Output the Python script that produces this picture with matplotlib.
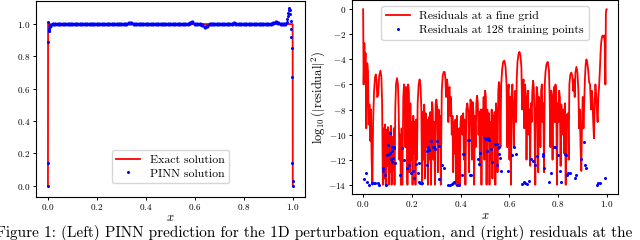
import numpy as np
import matplotlib
matplotlib.use("Agg")
from matplotlib import pyplot as plt

plt.rcParams['font.family'] = 'serif'
plt.rcParams['font.serif'] = ['cmr10']
plt.rcParams['mathtext.fontset'] = 'cm'
plt.rcParams['axes.formatter.use_mathtext'] = True
plt.rcParams['axes.unicode_minus'] = True

# ---- left panel data: exact solution and PINN prediction ----
exact_x = [0.0, 0.0005, 0.9995, 1.0]
exact_u = [0.0, 1.0, 1.0, 0.0]

# PINN values on the evaluation grid x = 0.01 ... 0.97
grid_x = np.round(np.arange(0.01, 0.975, 0.01), 2)
grid_u = [0.99, 1.0, 1.0, 1.0, 1.0, 1.0, 1.002, 1.0, 1.0, 1.0,
          1.0, 1.0, 1.0, 1.0, 1.0, 1.0, 1.0, 1.0, 1.0, 1.0,
          1.0, 1.0, 1.0, 1.0, 1.0, 1.0, 1.0, 1.0, 1.0, 1.0,
          1.0, 1.0, 1.004, 1.006, 1.002, 1.0, 1.0, 1.0, 1.0, 1.0,
          1.0, 1.0, 1.0, 1.0, 1.0, 1.0, 1.0, 1.0, 1.0, 1.0,
          1.0, 1.0, 1.0, 1.0, 1.0, 1.0, 1.0, 1.006, 1.01, 1.003,
          1.0, 1.0, 0.995, 0.98, 0.99, 1.0, 1.0, 1.0, 1.0, 1.0,
          1.0, 1.0, 1.0, 1.0, 1.0, 1.004, 1.002, 1.0, 1.0, 1.0,
          1.0, 1.0, 1.0, 0.998, 1.0, 1.0, 1.0, 1.0, 1.0, 1.0,
          1.0, 1.004, 1.01, 1.004, 1.0, 1.0, 1.002]
# extra PINN points close to the two boundary layers
edge_x = [0.0, 0.0, 0.001, 0.002, 0.003, 0.004, 0.005, 0.006, 0.007, 0.008,
          0.975, 0.978, 0.98, 0.982, 0.984, 0.986, 0.988, 0.99, 0.992,
          0.993, 0.994, 0.995, 0.996, 0.998, 0.999, 1.0]
edge_u = [0.0, 0.14, 0.89, 1.01, 0.97, 0.955, 0.96, 0.97, 0.985, 0.995,
          1.01, 1.03, 1.05, 1.07, 1.09, 1.1, 1.09, 1.06, 1.02,
          0.97, 0.92, 0.85, 0.67, 0.14, 0.03, 0.0]

# ---- right panel data: log10 of squared residuals ----
fine_x = [0.000, 0.002, 0.005, 0.008, 0.010, 0.013, 0.017, 0.020, 0.023, 0.026,
          0.029, 0.032, 0.035, 0.038, 0.041, 0.045, 0.049, 0.052, 0.055, 0.058,
          0.062, 0.066, 0.071, 0.075, 0.078, 0.081, 0.084, 0.087, 0.090, 0.093,
          0.096, 0.099, 0.102, 0.105, 0.108, 0.111, 0.114, 0.117, 0.120, 0.123,
          0.126, 0.129, 0.132, 0.135, 0.139, 0.143, 0.146, 0.149, 0.152, 0.155,
          0.158, 0.161, 0.165, 0.168, 0.171, 0.173, 0.176, 0.179, 0.182, 0.185,
          0.188, 0.191, 0.194, 0.197, 0.200, 0.203, 0.206, 0.209, 0.212, 0.215,
          0.218, 0.221, 0.224, 0.228, 0.232, 0.236, 0.239, 0.242, 0.245, 0.248,
          0.251, 0.254, 0.257, 0.260, 0.263, 0.266, 0.270, 0.273, 0.276, 0.279,
          0.283, 0.286, 0.289, 0.292, 0.295, 0.298, 0.301, 0.304, 0.307, 0.310,
          0.313, 0.316, 0.319, 0.323, 0.327, 0.331, 0.335, 0.338, 0.341, 0.344,
          0.347, 0.350, 0.352, 0.355, 0.358, 0.361, 0.364, 0.367, 0.370, 0.373,
          0.376, 0.379, 0.382, 0.385, 0.388, 0.391, 0.394, 0.397, 0.400, 0.404,
          0.408, 0.411, 0.414, 0.417, 0.420, 0.424, 0.428, 0.432, 0.435, 0.438,
          0.441, 0.444, 0.447, 0.450, 0.453, 0.456, 0.459, 0.462, 0.465, 0.468,
          0.471, 0.474, 0.477, 0.480, 0.483, 0.486, 0.489, 0.492, 0.495, 0.498,
          0.501, 0.504, 0.507, 0.510, 0.513, 0.516, 0.519, 0.522, 0.525, 0.528,
          0.531, 0.534, 0.537, 0.540, 0.543, 0.546, 0.549, 0.552, 0.555, 0.558,
          0.561, 0.564, 0.567, 0.571, 0.575, 0.580, 0.585, 0.589, 0.592, 0.595,
          0.598, 0.601, 0.604, 0.607, 0.610, 0.613, 0.616, 0.619, 0.622, 0.625,
          0.628, 0.631, 0.634, 0.638, 0.642, 0.646, 0.650, 0.653, 0.656, 0.659,
          0.662, 0.665, 0.668, 0.671, 0.674, 0.677, 0.680, 0.683, 0.686, 0.689,
          0.692, 0.695, 0.698, 0.701, 0.704, 0.707, 0.710, 0.713, 0.716, 0.719,
          0.722, 0.725, 0.728, 0.731, 0.734, 0.737, 0.740, 0.743, 0.746, 0.749,
          0.753, 0.758, 0.763, 0.766, 0.769, 0.772, 0.775, 0.778, 0.781, 0.784,
          0.787, 0.790, 0.793, 0.796, 0.799, 0.802, 0.805, 0.808, 0.811, 0.814,
          0.817, 0.820, 0.823, 0.826, 0.829, 0.832, 0.835, 0.838, 0.841, 0.844,
          0.847, 0.851, 0.855, 0.859, 0.863, 0.866, 0.869, 0.872, 0.876, 0.880,
          0.884, 0.887, 0.890, 0.893, 0.896, 0.899, 0.902, 0.905, 0.908, 0.911,
          0.914, 0.917, 0.920, 0.924, 0.928, 0.932, 0.936, 0.939, 0.942, 0.945,
          0.948, 0.951, 0.954, 0.957, 0.960, 0.963, 0.966, 0.969, 0.972, 0.975,
          0.978, 0.981, 0.984, 0.987, 0.990, 0.992, 0.994, 0.995, 0.997, 0.999,
          1.000]
fine_r = [0.0, -6.0, -2.7, -4.5, -3.5, -9.5, -4.3, -5.0, -9.2, -7.6,
          -10.5, -8.0, -12.0, -14.0, -9.0, -6.5, -5.4, -5.2, -5.6, -7.0,
          -6.8, -5.3, -4.9, -5.4, -7.5, -14.0, -9.5, -13.5, -9.2, -14.0,
          -9.6, -12.5, -9.4, -14.0, -9.8, -13.0, -9.3, -14.0, -10.2, -12.8,
          -9.5, -14.0, -8.0, -6.0, -5.5, -6.0, -8.0, -12.0, -10.0, -14.0,
          -9.5, -14.0, -7.0, -6.0, -6.8, -11.0, -6.2, -7.0, -14.0, -6.0,
          -6.6, -13.0, -7.5, -12.0, -9.0, -14.0, -8.5, -11.5, -9.0, -14.0,
          -8.8, -12.0, -7.5, -6.0, -5.6, -6.2, -8.0, -14.0, -8.2, -12.0,
          -7.6, -13.5, -8.3, -11.0, -8.8, -14.0, -8.6, -12.0, -8.2, -14.0,
          -7.4, -8.0, -12.0, -9.0, -14.0, -7.5, -7.2, -7.8, -13.0, -8.0,
          -11.0, -8.5, -14.0, -6.5, -5.3, -5.0, -5.0, -5.6, -7.0, -5.6,
          -6.0, -9.0, -6.5, -6.2, -8.5, -7.0, -10.0, -8.5, -13.0, -9.0,
          -11.5, -8.8, -14.0, -8.5, -12.0, -14.0, -9.5, -14.0, -9.0, -8.5,
          -10.0, -8.3, -12.0, -8.8, -14.0, -8.0, -7.5, -8.2, -13.0, -8.5,
          -7.2, -7.6, -12.0, -7.4, -8.2, -14.0, -8.5, -11.0, -7.5, -6.9,
          -7.5, -10.0, -8.2, -12.5, -8.0, -14.0, -8.0, -10.0, -7.0, -12.0,
          -6.5, -7.0, -14.0, -8.0, -10.5, -8.3, -14.0, -9.0, -12.0, -8.0,
          -13.5, -8.5, -11.0, -8.2, -14.0, -7.5, -9.0, -13.0, -6.5, -5.8,
          -6.5, -11.0, -6.0, -4.8, -4.2, -4.1, -4.6, -6.0, -11.0, -6.5,
          -6.0, -12.0, -7.0, -14.0, -6.8, -6.0, -8.0, -11.0, -7.5, -6.5,
          -9.0, -5.5, -4.2, -3.6, -3.4, -3.7, -4.6, -8.0, -6.0, -5.6,
          -9.5, -6.0, -6.8, -12.0, -7.5, -6.5, -10.0, -8.0, -12.5, -7.5,
          -9.0, -6.5, -5.7, -6.3, -9.0, -14.0, -8.0, -6.2, -6.8, -13.0,
          -7.0, -7.5, -11.0, -6.5, -6.0, -9.0, -7.5, -13.0, -6.0, -5.0,
          -4.4, -4.2, -4.8, -7.0, -11.0, -6.5, -7.2, -12.0, -6.8, -6.2,
          -9.0, -6.0, -6.8, -14.0, -7.5, -9.0, -6.5, -7.0, -12.5, -7.6,
          -8.5, -10.0, -8.0, -11.5, -7.5, -14.0, -8.4, -9.0, -8.3, -12.0,
          -6.0, -5.2, -5.05, -5.3, -6.5, -5.6, -7.0, -5.0, -4.6, -5.0,
          -6.5, -9.5, -8.0, -11.0, -12.9, -9.0, -7.0, -9.5, -7.5, -5.5,
          -4.4, -4.0, -4.2, -4.8, -5.8, -6.0, -8.0, -6.5, -7.2, -9.0,
          -10.3, -7.5, -6.0, -6.8, -8.0, -9.0, -7.0, -6.2, -5.0, -3.5,
          -2.6, -2.2, -2.1, -2.2, -2.1, -2.6, -4.5, -6.0, -0.3, 0.0,
          0.0]

train_x = [0.003, 0.012, 0.014, 0.023, 0.037, 0.044, 0.050, 0.060, 0.064, 0.080,
           0.083, 0.089, 0.093, 0.098, 0.102, 0.108, 0.109, 0.112, 0.115, 0.119,
           0.119, 0.120, 0.123, 0.125, 0.128, 0.130, 0.150, 0.160, 0.169, 0.180,
           0.187, 0.196, 0.205, 0.210, 0.218, 0.224, 0.228, 0.229, 0.233, 0.243,
           0.261, 0.264, 0.265, 0.268, 0.270, 0.279, 0.288, 0.292, 0.295, 0.302,
           0.311, 0.313, 0.325, 0.332, 0.347, 0.356, 0.363, 0.370, 0.374, 0.384,
           0.393, 0.407, 0.411, 0.415, 0.432, 0.434, 0.438, 0.445, 0.473, 0.477,
           0.479, 0.500, 0.504, 0.507, 0.512, 0.519, 0.525, 0.530, 0.543, 0.549,
           0.550, 0.553, 0.557, 0.560, 0.562, 0.566, 0.594, 0.612, 0.621, 0.628,
           0.653, 0.659, 0.666, 0.673, 0.680, 0.689, 0.696, 0.707, 0.713, 0.737,
           0.740, 0.744, 0.762, 0.771, 0.785, 0.788, 0.800, 0.809, 0.811, 0.828,
           0.832, 0.836, 0.841, 0.850, 0.869, 0.873, 0.893, 0.907, 0.911, 0.916,
           0.959, 0.964, 0.971, 0.993]
train_r = [-13.52, -13.04, -13.81, -14.02, -13.84, -13.84, -13.84, -13.84, -14.0, -12.94,
           -12.67, -13.26, -14.0, -11.61, -10.87, -11.53, -11.48, -9.88, -11.96, -10.95,
           -11.34, -12.2, -11.88, -10.97, -11.08, -12.27, -13.26, -11.08, -12.06, -12.67,
           -12.46, -13.07, -12.88, -13.47, -12.33, -13.07, -13.81, -12.27, -13.87, -13.87,
           -11.34, -12.46, -11.02, -10.95, -11.21, -10.55, -10.95, -11.0, -11.13, -10.55,
           -10.89, -13.52, -12.41, -12.67, -14.03, -14.03, -13.92, -13.87, -13.81, -14.03,
           -14.03, -13.26, -11.56, -11.56, -10.41, -10.47, -13.26, -13.26, -11.95, -12.35,
           -11.48, -10.28, -10.36, -11.34, -10.28, -10.41, -11.13, -12.19, -10.73, -10.73,
           -12.46, -11.08, -10.95, -11.56, -11.88, -12.94, -12.94, -11.61, -10.95, -11.56,
           -13.95, -13.81, -13.87, -13.95, -13.73, -11.95, -12.14, -12.46, -11.69, -11.56,
           -11.74, -12.67, -13.81, -13.07, -10.95, -10.95, -11.61, -12.94, -13.81, -11.53,
           -11.61, -13.26, -13.07, -13.07, -13.47, -13.26, -11.95, -10.62, -12.41, -12.67,
           -14.0, -13.87, -13.87, -13.47]

caption = ("Figure 1: (Left) PINN prediction for the 1D perturbation equation, "
           "and (right) residuals at the")

fig = plt.figure(figsize=(6.4, 2.4), dpi=100)

# left panel
ax1 = fig.add_axes([0.0558, 0.179, 0.4208, 0.815])
ax1.plot(exact_x, exact_u, color='red', lw=1.3, label='Exact solution')
ax1.plot(grid_x, grid_u, 'o', color='blue', ms=3.0, mew=0)
ax1.plot(edge_x, edge_u, 'o', color='blue', ms=2.2, mew=0, label='PINN solution')
ax1.set_xlim(-0.05, 1.05)
ax1.set_ylim(-0.07, 1.14)
ax1.set_xticks([0.0, 0.2, 0.4, 0.6, 0.8, 1.0])
ax1.set_yticks([0.0, 0.2, 0.4, 0.6, 0.8, 1.0])
ax1.set_xlabel('$x$', fontsize=9, labelpad=0)
ax1.legend(loc='lower center', bbox_to_anchor=(0.5, 0.04), fontsize=8.5,
           numpoints=1, handlelength=2.0, borderpad=0.4, labelspacing=0.3)

# right panel
ax2 = fig.add_axes([0.5495, 0.19375, 0.4166, 0.8042])
ax2.plot(fine_x, fine_r, color='red', lw=1.3, label='Residuals at a fine grid')
ax2.plot(train_x, train_r, 'o', color='blue', ms=2.2, mew=0,
         label='Residuals at 128 training points')
ax2.set_xlim(-0.047, 1.048)
ax2.set_ylim(-14.7, 0.7)
ax2.set_xticks([0.0, 0.2, 0.4, 0.6, 0.8, 1.0])
ax2.set_yticks([0, -2, -4, -6, -8, -10, -12, -14])
ax2.set_xlabel('$x$', fontsize=9, labelpad=1)
ax2.set_ylabel(r'$\log_{10}(|\mathrm{residual}|^2)$', fontsize=9, labelpad=1)
ax2.legend(loc='upper center', fontsize=8.5, numpoints=1,
           handlelength=2.0, borderpad=0.4, labelspacing=0.3)

for ax in (ax1, ax2):
    ax.tick_params(labelsize=6.6, length=2.5, width=0.7, pad=1.2)

fig.text(-0.006, 0.012, caption, fontsize=11.0, ha='left', va='baseline')

fig.savefig('out.png', dpi=100)
